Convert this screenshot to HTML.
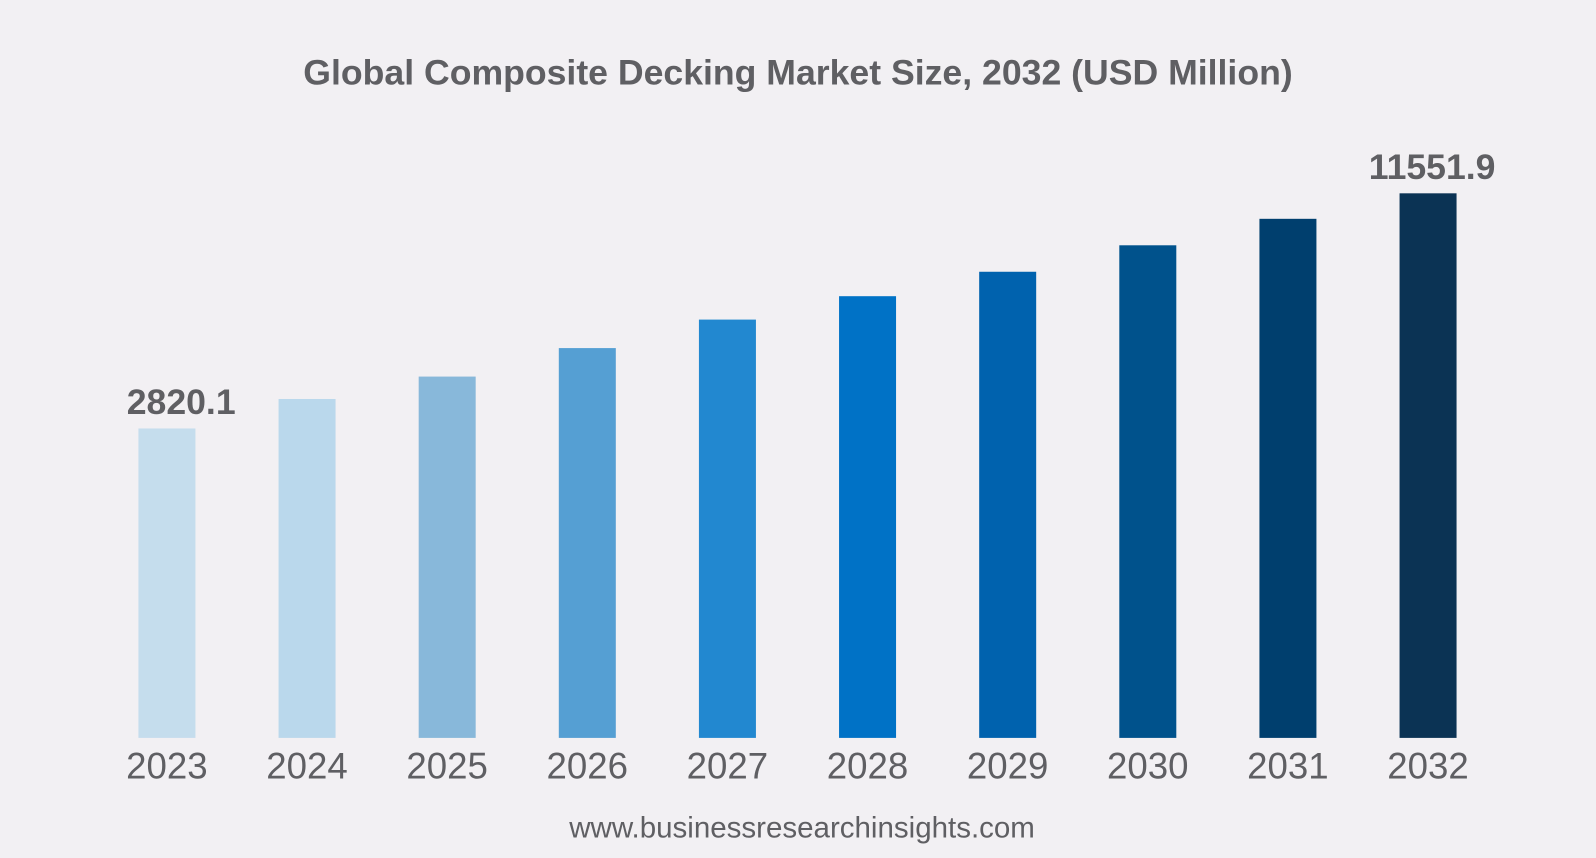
<!DOCTYPE html>
<html><head><meta charset="utf-8"><style>
html,body{margin:0;padding:0;background:#f2f0f3;}
svg{display:block;}
text{font-family:"Liberation Sans",sans-serif;}
</style></head><body>
<svg width="1596" height="858" viewBox="0 0 1568 843" preserveAspectRatio="none">
<rect width="1568" height="843" fill="#f2f0f3"/>
<text x="784" y="83" text-anchor="middle" font-size="35" font-weight="bold" fill="#5f5f63">Global Composite Decking Market Size, 2032 (USD Million)</text>
<g id="bars"></g>
<text x="788" y="823" text-anchor="middle" font-size="29" fill="#5f5f63">www.businessresearchinsights.com</text>
</svg>
<script>
const categories = ["2023","2024","2025","2026","2027","2028","2029","2030","2031","2032"];
const values = [2820.1,3915,4747,5805,6863,7732,8639,9622,10605,11551.9];
const labels = ["2820.1","","","","","","","","","11551.9"];
const colors = ["#c5dded","#bad8ec","#88b8da","#559fd3","#2288d0","#0072c6","#0062ae","#00528c","#003f6e","#0b3354"];
const baseY = 725, barW = 56;
function xCenter(i){ return 164 + i*(1403-164)/9; }
function yScale(v){ return baseY - (229.4 + v*0.02646); }
const g = document.getElementById('bars');
const NS = "http://www.w3.org/2000/svg";
categories.forEach((c,i)=>{
  const v = values[i];
  const r = document.createElementNS(NS,'rect');
  r.setAttribute('x', xCenter(i)-barW/2);
  r.setAttribute('y', yScale(v));
  r.setAttribute('width', barW);
  r.setAttribute('height', baseY - yScale(v));
  r.setAttribute('fill', colors[i]);
  
  
  g.appendChild(r);
  const t = document.createElementNS(NS,'text');
  t.setAttribute('x', xCenter(i));
  t.setAttribute('y', 765);
  t.setAttribute('text-anchor','middle');
  t.setAttribute('font-size','36');
  t.setAttribute('fill','#5f5f63');
  t.textContent = c;
  
  
  g.appendChild(t);
  if(labels[i]){
    const l = document.createElementNS(NS,'text');
    l.setAttribute('x', xCenter(i)+ (i===0?14:4));
    l.setAttribute('y', yScale(v)-14);
    l.setAttribute('text-anchor','middle');
    l.setAttribute('font-size','35');
    l.setAttribute('font-weight','bold');
    l.setAttribute('fill','#5f5f63');
    l.textContent = labels[i];
    
    
    g.appendChild(l);
  }
});
</script>
</body></html>
